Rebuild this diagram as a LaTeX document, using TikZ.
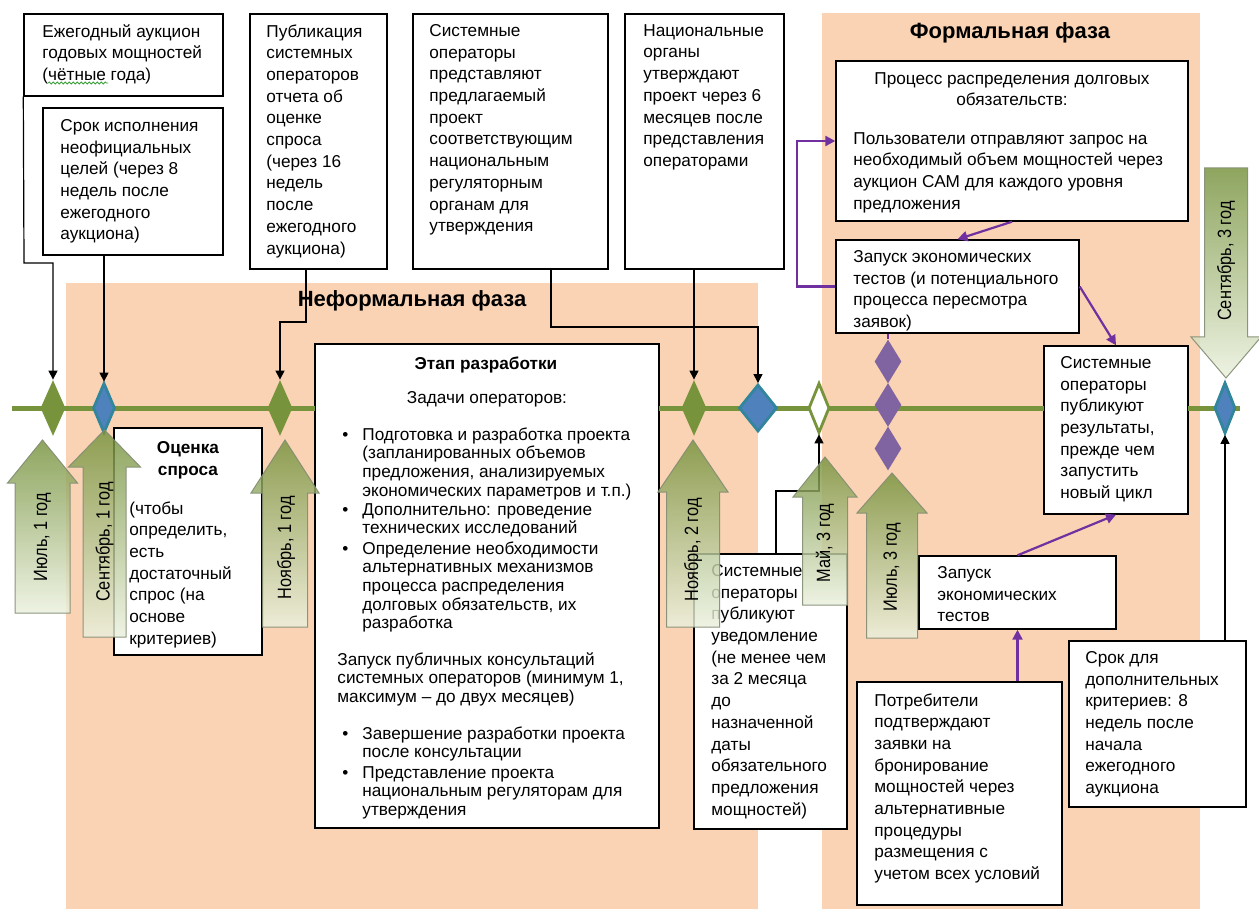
\documentclass[tikz,border=0pt]{standalone}
\usepackage{fontspec}
\setmainfont{Liberation Sans}
\newfontfamily\narrowfont[FakeStretch=0.85]{Liberation Sans}
\usetikzlibrary{shapes.geometric,arrows.meta,fit,decorations.pathmorphing}
\definecolor{peach}{RGB}{250,211,180}
\definecolor{tgreen}{RGB}{119,147,60}
\definecolor{dblue}{RGB}{79,129,189}
\definecolor{dteal}{RGB}{49,133,156}
\definecolor{dpurple}{RGB}{128,100,162}
\definecolor{lpurple}{RGB}{112,48,160}
\definecolor{agreen}{RGB}{118,146,60}
\definecolor{amid}{RGB}{150,175,105}
\definecolor{alight}{RGB}{235,241,222}
\definecolor{aline}{RGB}{130,140,115}
\definecolor{spell}{RGB}{60,160,60}
\newcommand{\UpArr}[6]{%
  \path[arrsty] (#1,#2) -- ({#1+#5},#3) -- ({#1+#6},#3) -- ({#1+#6},#4) -- ({#1-#6},#4) -- ({#1-#6},#3) -- ({#1-#5},#3) -- cycle;}
\newcommand{\DnArr}[6]{%
  \path[arrsty] ({#1-#6},#2) -- ({#1+#6},#2) -- ({#1+#6},#3) -- ({#1+#5},#3) -- (#1,#4) -- ({#1-#5},#3) -- ({#1-#6},#3) -- cycle;}
\begin{document}
\begin{tikzpicture}[x=0.5pt,y=-0.5pt,
  box/.style={draw=black, line width=0.7pt, fill=white, inner sep=0pt},
  tx/.style={font=\fontsize{8.6}{10.85}\selectfont, align=left, inner sep=0pt, anchor=north west},
  txn/.style={font=\fontsize{8.6}{9.35}\selectfont, align=left, inner sep=0pt, anchor=north west},
  ttl/.style={font=\fontsize{11}{13}\selectfont\bfseries, inner sep=0pt},
  conn/.style={draw=black, line width=0.6pt, -{Triangle[width=4.5pt,length=4.5pt]}},
  pconn/.style={draw=lpurple, line width=1.1pt, -{Triangle[width=5pt,length=5pt]}},
  pline/.style={draw=lpurple, line width=1.1pt},
  tline/.style={draw=tgreen, line width=2.5pt},
  gdia/.style={diamond, fill=tgreen, draw=none, inner sep=0pt, minimum width=12.5pt, minimum height=28pt},
  bdia/.style={diamond, fill=dblue, draw=dteal, line width=1.4pt, inner sep=0pt},
  hdia/.style={diamond, fill=white, draw=tgreen, line width=1.4pt, inner sep=0pt, minimum width=10.5pt, minimum height=25pt},
  pdia/.style={diamond, fill=dpurple, draw=none, inner sep=0pt, minimum width=13.5pt, minimum height=22pt},
  arrsty/.style={draw=aline, line width=0.5pt, top color=agreen, middle color=amid, bottom color=alight, fill opacity=0.82, draw opacity=0.9},
  alab/.style={font=\narrowfont\fontsize{9.6}{11}\selectfont, rotate=90, inner sep=0pt}
]
\useasboundingbox (0,0) rectangle (1259,909);
\fill[white] (0,0) rectangle (1259,909);
% phases
\fill[peach] (66,283) rectangle (758,909);
\fill[peach] (822,13) rectangle (1200,909);
\node[ttl] (tInf) at (412,301) {Неформальная фаза};
\node[ttl] (tFor) at (1010,33) {Формальная фаза};

% boxes
\node[box, fit={(24,14) (223,96)}] (A) {};
\node[box, fit={(43,108) (223,255)}] (B) {};
\node[box, fit={(250,14) (387,269)}] (C) {};
\node[box, fit={(413,14) (608,269)}] (D) {};
\node[box, fit={(625,14) (784,269)}] (E) {};
\node[box, fit={(836,61) (1188,221)}] (F) {};
\node[box, fit={(836,240) (1079,333)}] (G) {};
\node[box, fit={(1044,346) (1188,514)}] (H) {};
\node[box, fit={(919,556) (1116,629)}] (I) {};
\node[box, fit={(857,682) (1062,905)}] (J) {};
\node[box, fit={(1069,641) (1246,807)}] (K) {};
\node[box, fit={(694,554) (847,829)}] (L) {};
\node[box, fit={(114,428) (262,655)}] (M) {};
\node[box, fit={(315,344) (659,828)}] (N) {};

% timeline
\coordinate (tlL) at (12,408);
\coordinate (tlR) at (1240,408);
\draw[tline] (tlL) -- (315,408);
\draw[tline] (659,408) -- (1044,408);
\draw[tline] (1188,408) -- (tlR);

% box texts
\node[tx] (At) at (42,24) {Ежегодный аукцион\\годовых мощностей\\(чётные года)};
\draw[spell, line width=0.4pt, decorate, decoration={snake,amplitude=0.5pt,segment length=2pt}] (48,83) -- (108,83);
\node[tx] (Bt) at (60,119) {Срок исполнения\\неофициальных\\целей (через 8\\недель после\\ежегодного\\аукциона)};
\node[tx] (Ct) at (266,24) {Публикация\\системных\\операторов\\отчета об\\оценке\\спроса\\(через 16\\недель\\после\\ежегодного\\аукциона)};
\node[tx] (Dt) at (429,24) {Системные\\операторы\\представляют\\предлагаемый\\проект\\соответствующим\\национальным\\регуляторным\\органам для\\утверждения};
\node[tx] (Et) at (643,24) {Национальные\\органы\\утверждают\\проект через 6\\месяцев после\\представления\\операторами};
\node[tx, align=center, anchor=north] (Ft1) at (1012,72) {Процесс распределения долговых\\обязательств:};
\node[tx] (Ft2) at (853,132) {Пользователи отправляют запрос на\\необходимый объем мощностей через\\аукцион САМ для каждого уровня\\предложения};
\node[tx] (Gt) at (853,250) {Запуск экономических\\тестов (и потенциального\\процесса пересмотра\\заявок)};
\node[tx] (Ht) at (1060,356) {Системные\\операторы\\публикуют\\результаты,\\прежде чем\\запустить\\новый цикл};
\node[tx] (It) at (937,566) {Запуск\\экономических\\тестов};
\node[tx] (Jt) at (874,693) {Потребители\\подтверждают\\заявки на\\бронирование\\мощностей через\\альтернативные\\процедуры\\размещения с\\учетом всех условий};
\node[tx] (Kt) at (1085,651) {Срок для\\дополнительных\\критериев: 8\\недель после\\начала\\ежегодного\\аукциона};
\node[tx] (Lt) at (711,564) {Системные\\операторы\\публикуют\\уведомление\\(не менее чем\\за 2 месяца\\до\\назначенной\\даты\\обязательного\\предложения\\мощностей)};
\node[tx, align=center, anchor=north, font=\fontsize{8.6}{10.85}\selectfont\bfseries] (Mt1) at (188,441) {Оценка\\спроса};
\node[tx] (Mt2) at (129,501) {(чтобы\\определить,\\есть\\достаточный\\спрос (на\\основе\\критериев)};
\node[tx, anchor=north, font=\fontsize{8.6}{10.85}\selectfont\bfseries] (Nt1) at (486,356) {Этап разработки};
\node[tx, anchor=north] (Nt2) at (487,391) {Задачи операторов:};
\node[txn] (Nb1) at (362,427) {\llap{\textbullet\hspace{7pt}}Подготовка и разработка проекта\\(запланированных объемов\\предложения, анализируемых\\экономических параметров и т.п.)};
\node[txn] (Nb2) at (362,503) {\llap{\textbullet\hspace{7pt}}Дополнительно: проведение\\технических исследований};
\node[txn] (Nb3) at (362,541) {\llap{\textbullet\hspace{7pt}}Определение необходимости\\альтернативных механизмов\\процесса распределения\\долговых обязательств, их\\разработка};
\node[txn] (Np) at (337,652) {Запуск публичных консультаций\\системных операторов (минимум 1,\\максимум – до двух месяцев)};
\node[txn] (Nb4) at (362,726) {\llap{\textbullet\hspace{7pt}}Завершение разработки проекта\\после консультации};
\node[txn] (Nb5) at (362,766) {\llap{\textbullet\hspace{7pt}}Представление проекта\\национальным регуляторам для\\утверждения};

% diamonds
\node[gdia] (d1) at (53,408) {};
\node[bdia, minimum width=11pt, minimum height=25pt] (d2) at (104,408) {};
\node[gdia] (d3) at (280,408) {};
\node[gdia] (d4) at (694,408) {};
\node[bdia, minimum width=19pt, minimum height=23.5pt] (d5) at (758,408) {};
\node[hdia] (d6) at (819,408) {};
\node[pdia] (p1) at (888,361.5) {};
\node[pdia] (p2) at (888,405) {};
\node[pdia] (p3) at (888,448.5) {};
\node[bdia, minimum width=10.5pt, minimum height=25.5pt] (d8) at (1225,408) {};

% black connectors
\coordinate (a1) at (24,263);
\draw[conn] (A.south west) -- (a1) -| (d1.north);
\draw[conn] (d2.north |- B.south) -- (d2.north);
\coordinate (c0) at (306,269);
\coordinate (c1) at (306,322);
\draw[conn] (c0) -- (c1) -| (d3.north);
\coordinate (e0) at (551,269);
\coordinate (e1) at (551,327);
\draw[conn] (e0) -- (e1) -| (d5.north);
\draw[conn] (d4.north |- E.south) -- (d4.north);
\coordinate (l0) at (776,554);
\coordinate (l1) at (776,491);
\draw[conn] (l0) -- (l1) -| (d6.south);
\draw[conn] (d8.south |- K.north) -- (d8.south);

% purple connectors
\draw[pconn] (F.south) -- (G.north);
\draw[pconn] (G.east) -- (H.north);
\draw[pconn] (G.west) -- ++(-38,0) |- (F.west);
\draw[pline] (p1.north |- G.south) -- (p1.north);
\draw[pconn] (I.south |- J.north) -- (I.south);
\draw[pconn] (I.north) -- (H.south);

% block arrows
\UpArr{42.5}{440}{483}{613}{35}{27.5}
\node[alab] (l1t) at (42.5,537) {Июль, 1 год};
\UpArr{104.5}{430}{467}{637}{36}{21.5}
\node[alab] (l2t) at (104.5,542) {Сентябрь, 1 год};
\UpArr{285}{440}{493}{627}{34}{22.5}
\node[alab] (l3t) at (286,548) {Ноябрь, 1 год};
\UpArr{693}{440}{492}{627}{35}{26.5}
\node[alab] (l4t) at (693,550) {Ноябрь, 2 год};
\UpArr{825}{457}{497}{605}{32}{22.5}
\node[alab] (l5t) at (825,543) {Май, 3 год};
\UpArr{892}{473}{513}{638}{35}{25.5}
\node[alab] (l6t) at (892,567) {Июль, 3 год};
\DnArr{1226}{168}{337}{378}{35}{21.5}
\node[alab] (l7t) at (1226,261) {Сентябрь, 3 год};
\end{tikzpicture}
\end{document}
